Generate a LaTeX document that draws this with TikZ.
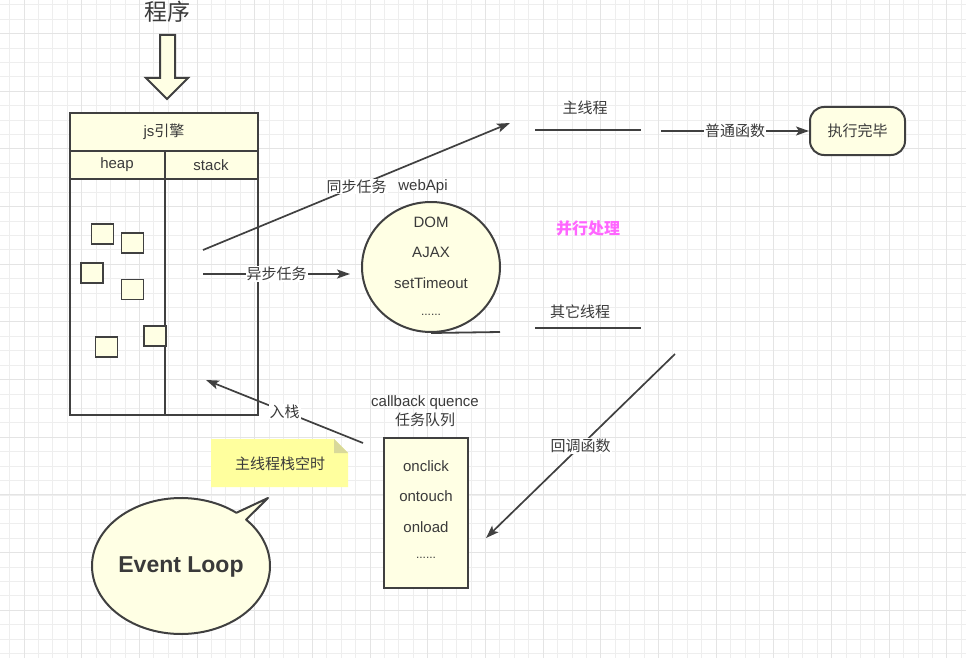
\documentclass[tikz,border=0pt]{standalone}
\usepackage{fontspec}
\setmainfont{Liberation Sans}
\newfontfamily\cjk{Noto Sans CJK SC}
\usetikzlibrary{arrows.meta,shapes.geometric}
\definecolor{fillY}{HTML}{FFFFE4}
\definecolor{noteY}{HTML}{FFFF9E}
\definecolor{foldY}{HTML}{D9D99A}
\definecolor{strk}{HTML}{404040}
\definecolor{txtc}{HTML}{3A3A3A}
\definecolor{pinkc}{HTML}{FF66FF}
\definecolor{gridmin}{HTML}{EEEEEE}
\definecolor{gridmaj}{HTML}{E4E4E4}
\tikzset{
  txt/.style={text=txtc,inner sep=1pt,font=\fontsize{15}{17}\selectfont},
  cjktxt/.style={text=txtc,inner sep=1pt,font=\fontsize{15}{17}\selectfont\cjk},
  lbl/.style={cjktxt,fill=white,inner sep=1pt},
  shp/.style={draw=strk,fill=fillY,line width=2pt},
  sq/.style={draw=strk,fill=fillY,line width=1.6pt,minimum width=22,minimum height=20,inner sep=0pt},
  arr/.style={draw=strk,line width=1.7pt,-{Stealth[length=13pt,width=9pt,inset=3pt]}},
  pln/.style={draw=strk,line width=1.8pt},
}
\begin{document}
\begin{tikzpicture}[x=1pt,y=-1pt]
\fill[white] (0,0) rectangle (966,658);
\useasboundingbox (0,0) rectangle (966,658);
% grid
\foreach \i in {0,...,66} {\draw[gridmin,line width=0.9pt] ({9.6+14.42*\i},0) -- ({9.6+14.42*\i},658);}
\foreach \i in {0,...,45} {\draw[gridmin,line width=0.9pt] (0,{4.7+14.42*\i}) -- (966,{4.7+14.42*\i});}
\foreach \i in {0,...,16} {\draw[gridmaj,line width=1pt] ({24.02+57.68*\i},0) -- ({24.02+57.68*\i},658);}
\foreach \i in {0,...,11} {\draw[gridmaj,line width=1pt] (0,{33.54+57.68*\i}) -- (966,{33.54+57.68*\i});}

% title and hollow arrow
\node[text=txtc,font=\fontsize{23}{25}\selectfont\cjk] (prog) at (167,12) {程序};
\draw[shp,line join=miter] (160,35) -- (175,35) -- (175,78) -- (188,78) -- (167,99) -- (146,78) -- (160,78) -- cycle;

% js engine table
\draw[shp,fill=none] (70,179) rectangle (258,415);
\draw[shp] (70,113) rectangle (258,151);
\draw[shp] (70,151) rectangle (258,179);
\draw[pln,line width=2pt] (165,151) -- (165,415);
\node[txt] (jse) at (164,132) {js{\cjk 引擎}};
\node[txt] (heap) at (117,165) {heap};
\node[txt] (stack) at (211,165) {stack};

% heap squares
\node[sq] (h1) at (102.5,234) {};
\node[sq] (h2) at (132.5,243) {};
\node[sq] (h3) at (92,273) {};
\node[sq] (h4) at (132.5,289.5) {};
\node[sq] (h5) at (155,336) {};
\node[sq] (h6) at (106.5,347) {};

% webApi circle
\node[shp,ellipse,minimum width=138,minimum height=130,inner sep=0pt] (web) at (431,267) {};
\coordinate (webr) at (500,332);
\draw[pln] (web.south) -- (webr);
\node[txt] (webapi) at (423,187) {webApi};
\node[txt] (dom) at (431,222) {DOM};
\node[txt] (ajax) at (431,252) {AJAX};
\node[txt] (sett) at (431,283) {setTimeout};
\node[txt,font=\fontsize{12}{12}\selectfont] (dots1) at (431,315) {......};

% sync arrow
\coordinate (s1) at (203,250);
\coordinate (s1e) at (510,123);
\draw[arr] (s1) -- node[lbl] (syn) {同步任务} (s1e);

% async arrow
\coordinate (a1) at (203,274);
\coordinate (a1e) at (350,274);
\draw[arr] (a1) -- node[lbl] (asyn) {异步任务} (a1e);

% main thread
\coordinate (m1) at (535,130);
\coordinate (m2) at (641,130);
\draw[pln] (m1) -- (m2);
\node[cjktxt] (mainth) at (585,108) {主线程};

% done box
\node[shp,rounded corners=14pt,minimum width=95,minimum height=48,cjktxt] (done) at (857.5,131) {执行完毕};
\coordinate (n1) at (661,131);
\draw[arr] (n1) -- node[lbl] (norm) {普通函数} (done.west);

% parallel
\node[text=pinkc,font=\fontsize{16}{18}\selectfont\cjk\bfseries] (par) at (588,228) {并行处理};

% other threads
\coordinate (o1) at (535,328);
\coordinate (o2) at (641,328);
\draw[pln] (o1) -- (o2);
\node[cjktxt] (other) at (580,312) {其它线程};

% callback queue
\node[shp,minimum width=84,minimum height=150,inner sep=0pt] (cbq) at (426,513) {};
\node[txt] (cbt) at (425,403) {callback quence};
\node[cjktxt] (cbt2) at (425,420) {任务队列};
\node[txt] (onclick) at (426,466) {onclick};
\node[txt] (ontouch) at (426,496) {ontouch};
\node[txt] (onload) at (426,527) {onload};
\node[txt,font=\fontsize{12}{12}\selectfont] (dots2) at (426,558) {......};

% callback arrow
\coordinate (c1) at (675,354);
\coordinate (c2) at (486,538);
\draw[arr] (c1) -- node[lbl] (cbf) {回调函数} (c2);

% push arrow
\coordinate (p1) at (363,443);
\coordinate (p2) at (206,380);
\draw[arr] (p1) -- node[lbl] (push) {入栈} (p2);

% note
\fill[noteY] (211,439) -- (334,439) -- (348,453) -- (348,487) -- (211,487) -- cycle;
\fill[foldY] (334,439) -- (348,453) -- (334,453) -- cycle;
\node[cjktxt] (note) at (280,464) {主线程栈空时};

% event loop bubble
\draw[shp,line join=round] (268,498) -- plot[domain=-43:308.5,samples=120] ({181+89*cos(\x)},{566+68*sin(\x)}) -- cycle;
\node[text=txtc,font=\fontsize{23}{25}\selectfont\bfseries] (evl) at (181,567) {Event Loop};
\end{tikzpicture}
\end{document}
